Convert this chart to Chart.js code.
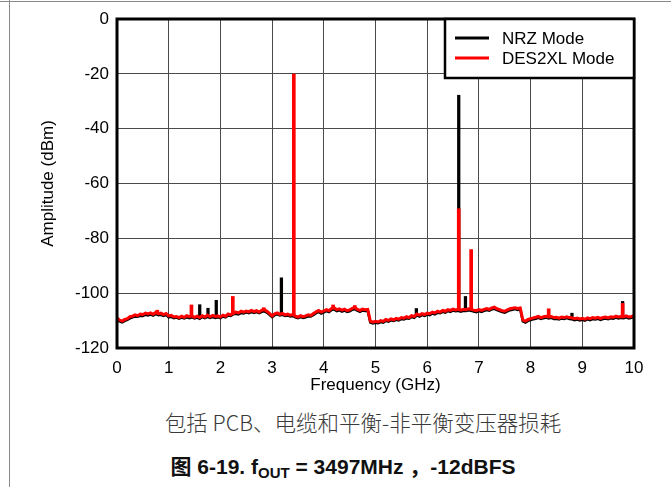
<!DOCTYPE html>
<html>
<head>
  <meta charset="utf-8">
  <title>图 6-19</title>
  <script src="https://cdn.jsdelivr.net/npm/chart.js@4"></script>
  <style>
    body { margin: 0; width: 671px; height: 487px; position: relative; background: #fff; overflow: hidden; }
    .frame-top { position: absolute; left: 0; top: 1px; width: 671px; height: 0; border-top: 1.5px solid #8a8a8a; }
    .frame-left { position: absolute; left: 9px; top: 0; width: 0; height: 487px; border-left: 1.5px solid #8a8a8a; }
    #wrap { position: absolute; left: 0; top: 0; }
    .note { position: absolute; left: 63px; width: 600px; top: 410px; line-height: 24px; text-align: center;
            font-family: "Noto Sans CJK SC", "Liberation Sans", sans-serif; font-size: 21.5px; color: #3a3a3a; font-weight: 300; }
    .caption { position: absolute; left: 43px; width: 600px; top: 455px; line-height: 24px; text-align: center;
               font-family: "Liberation Sans", "Noto Sans CJK SC", sans-serif; font-size: 21px; font-weight: bold; color: #111; }
    .caption sub { font-size: 15px; line-height: 0; vertical-align: -4px; }
  </style>
</head>
<body>
  <div class="frame-top"></div>
  <div class="frame-left"></div>
  <div id="wrap"><canvas id="grafico" width="671" height="405"></canvas></div>
  <div class="note">包括 PCB、电缆和平衡-非平衡变压器损耗</div>
  <div class="caption">图 6-19. f<sub>OUT</sub> = 3497MHz ，-12dBFS</div>

  <script>
    // frequency grid (GHz) for the noise floor
    var freqGHz = [
      0.00,0.05,0.10,0.15,0.20,0.25,0.30,0.35,0.40,0.45,0.50,0.55,0.60,0.65,0.70,0.75,0.80,0.85,0.90,0.95,
      1.00,1.05,1.10,1.15,1.20,1.25,1.30,1.35,1.40,1.45,1.50,1.55,1.60,1.65,1.70,1.75,1.80,1.85,1.90,1.95,
      2.00,2.05,2.10,2.15,2.20,2.25,2.30,2.35,2.40,2.45,2.50,2.55,2.60,2.65,2.70,2.75,2.80,2.85,2.90,2.95,
      3.00,3.05,3.10,3.15,3.20,3.25,3.30,3.35,3.40,3.45,3.50,3.55,3.60,3.65,3.70,3.75,3.80,3.85,3.90,3.95,
      4.00,4.05,4.10,4.15,4.20,4.25,4.30,4.35,4.40,4.45,4.50,4.55,4.60,4.65,4.70,4.75,4.80,4.85,4.90,4.95,
      5.00,5.05,5.10,5.15,5.20,5.25,5.30,5.35,5.40,5.45,5.50,5.55,5.60,5.65,5.70,5.75,5.80,5.85,5.90,5.95,
      6.00,6.05,6.10,6.15,6.20,6.25,6.30,6.35,6.40,6.45,6.50,6.55,6.60,6.65,6.70,6.75,6.80,6.85,6.90,6.95,
      7.00,7.05,7.10,7.15,7.20,7.25,7.30,7.35,7.40,7.45,7.50,7.55,7.60,7.65,7.70,7.75,7.80,7.85,7.90,7.95,
      8.00,8.05,8.10,8.15,8.20,8.25,8.30,8.35,8.40,8.45,8.50,8.55,8.60,8.65,8.70,8.75,8.80,8.85,8.90,8.95,
      9.00,9.05,9.10,9.15,9.20,9.25,9.30,9.35,9.40,9.45,9.50,9.55,9.60,9.65,9.70,9.75,9.80,9.85,9.90,9.95,
      10.00
    ];

    // NRZ Mode noise floor (dBm)
    var nrzFloor = [
      -109.5,-110.3,-110.6,-110.1,-109.7,-109.2,-108.8,-108.5,-108.6,-108.2,-108.3,-107.9,-108.1,-107.8,-108.2,-107.6,-108.0,-107.9,-108.3,-107.9,
      -108.8,-108.6,-109.1,-108.9,-109.3,-108.9,-109.2,-108.8,-109.1,-108.8,-109.2,-108.9,-109.3,-108.7,-109.1,-108.6,-109.0,-108.7,-109.0,-108.8,
      -109.1,-108.5,-108.8,-108.1,-108.3,-107.7,-107.5,-107.7,-107.2,-107.4,-107.0,-107.3,-106.9,-107.2,-106.9,-107.3,-106.8,-106.6,-107.1,-107.9,
      -108.7,-108.0,-107.7,-108.1,-107.9,-108.3,-108.1,-108.5,-108.3,-108.8,-109.1,-108.7,-109.0,-108.8,-108.4,-108.5,-107.9,-107.3,-106.8,-107.4,
      -107.0,-106.5,-106.9,-106.1,-105.9,-106.5,-106.2,-106.7,-106.3,-106.8,-106.6,-106.0,-105.8,-106.4,-106.8,-106.3,-106.5,-106.4,-110.7,-111.0,
      -110.8,-110.9,-110.5,-110.7,-110.1,-110.4,-109.9,-110.1,-109.7,-109.9,-109.4,-109.6,-109.1,-109.3,-108.7,-109.0,-108.1,-108.5,-108.0,-108.3,
      -107.8,-108.0,-107.4,-107.7,-107.1,-107.3,-106.8,-107.1,-106.5,-106.8,-106.3,-106.6,-106.4,-106.7,-106.4,-106.5,-106.2,-106.4,-106.7,-106.9,
      -106.5,-106.8,-106.4,-106.1,-106.4,-105.9,-105.7,-106.2,-106.5,-106.9,-107.1,-106.6,-106.2,-106.0,-105.8,-106.1,-105.9,-110.3,-110.7,-110.1,
      -109.8,-109.5,-109.3,-109.0,-109.4,-109.1,-108.9,-109.2,-109.0,-109.4,-109.3,-109.6,-109.2,-109.4,-109.1,-109.4,-109.5,-109.8,-109.6,-109.9,
      -109.7,-110.0,-109.5,-109.8,-109.4,-109.6,-109.3,-109.7,-109.4,-109.2,-109.5,-109.1,-109.3,-108.9,-109.2,-109.0,-109.1,-108.8,-109.2,-109.0,
      -108.7
    ];

    // DES2XL Mode noise floor (dBm)
    var des2xlFloor = [
      -109.0,-109.8,-110.2,-109.6,-109.3,-108.6,-108.4,-107.9,-108.2,-107.6,-107.8,-107.3,-107.6,-107.2,-107.7,-107.0,-107.5,-107.3,-107.8,-107.4,
      -108.3,-108.1,-108.7,-108.5,-108.9,-108.4,-108.8,-108.2,-108.6,-108.3,-108.8,-108.4,-108.9,-108.2,-108.7,-108.0,-108.6,-108.1,-108.5,-108.3,
      -108.7,-108.0,-108.4,-107.6,-107.9,-107.2,-106.9,-107.2,-106.6,-106.9,-106.5,-106.8,-106.3,-106.7,-106.4,-106.9,-106.2,-106.0,-106.6,-107.4,
      -108.3,-107.5,-107.2,-107.7,-107.4,-107.9,-107.6,-108.0,-107.8,-108.4,-108.7,-108.2,-108.6,-108.3,-107.9,-108.1,-107.4,-106.8,-106.3,-106.9,
      -106.5,-106.0,-106.4,-105.6,-105.3,-106.0,-105.7,-106.2,-105.8,-106.4,-106.1,-105.5,-105.2,-105.9,-106.3,-105.8,-106.0,-105.9,-110.2,-110.6,
      -110.3,-110.5,-110.0,-110.3,-109.6,-109.9,-109.4,-109.7,-109.2,-109.5,-108.9,-109.1,-108.6,-108.9,-108.2,-108.5,-107.6,-108.0,-107.5,-107.8,
      -107.3,-107.5,-106.9,-107.2,-106.6,-106.9,-106.3,-106.6,-106.0,-106.3,-105.8,-106.1,-105.9,-106.2,-105.9,-106.0,-105.7,-105.9,-106.2,-106.4,
      -106.0,-106.3,-105.9,-105.6,-105.9,-105.4,-105.1,-105.7,-106.0,-106.4,-106.6,-106.1,-105.7,-105.5,-105.3,-105.6,-105.4,-109.8,-110.2,-109.6,
      -109.3,-109.0,-108.8,-108.5,-108.9,-108.6,-108.4,-108.7,-108.5,-108.9,-108.8,-109.1,-108.7,-108.9,-108.6,-108.9,-109.0,-109.3,-109.1,-109.4,
      -109.2,-109.5,-109.0,-109.3,-108.9,-109.1,-108.8,-109.2,-108.9,-108.7,-109.0,-108.6,-108.8,-108.4,-108.7,-108.5,-108.6,-108.3,-108.7,-108.5,
      -108.2
    ];

    // spurs: frequency (GHz), peak and foot (dBm)
    var nrzSpurFreq = [1.60, 1.76, 1.92, 3.18, 5.79, 6.61, 6.74, 8.80, 9.78];
    var nrzSpurTop  = [-104.2, -105.5, -102.6, -94.4, -105.6, -27.8, -101.2, -107.3, -103.0];
    var nrzSpurBase = [-108.9, -108.8, -108.9, -108.0, -108.4, -106.4, -106.4, -109.4, -109.2];

    var des2xlSpurFreq = [0.78, 1.44, 2.24, 2.84, 3.42, 4.18, 4.60, 6.61, 6.85, 8.35, 9.78];
    var des2xlSpurTop  = [-106.2, -104.3, -101.2, -105.3, -20.1, -104.3, -104.5, -69.2, -84.1, -105.7, -103.7];
    var des2xlSpurBase = [-107.6, -108.6, -107.8, -106.3, -108.2, -105.6, -105.4, -106.0, -106.0, -108.6, -108.7];

    var xTicks = [0, 1, 2, 3, 4, 5, 6, 7, 8, 9, 10];
    var yTicks = [0, -20, -40, -60, -80, -100, -120];
    var seriesNames = ["NRZ Mode", "DES2XL Mode"];
    var seriesColors = ["#000000", "#ff0000"];

    var fontFamily = "'Liberation Sans', Arial, sans-serif";

    function toPoints(xs, ys) {
      var pts = [];
      for (var i = 0; i < xs.length; i++) pts.push({ x: xs[i], y: ys[i] });
      return pts;
    }
    function toBars(xs, base, top) {
      var pts = [];
      for (var i = 0; i < xs.length; i++) pts.push({ x: xs[i], y: [base[i], top[i]] });
      return pts;
    }

    // frame + legend box drawn over the plot
    var framePlugin = {
      id: "frame",
      afterDatasetsDraw: function (chart) {
        var a = chart.chartArea, ctx = chart.ctx;
        ctx.save();
        ctx.strokeStyle = "#000";
        ctx.lineWidth = 3;
        ctx.strokeRect(a.left, a.top, a.right - a.left, a.bottom - a.top);
        ctx.restore();
      },
      afterDraw: function (chart) {
        var a = chart.chartArea, ctx = chart.ctx;
        var w = 189, h = 59;
        var x0 = a.right - w, y0 = a.top;
        ctx.save();
        ctx.fillStyle = "#fff";
        ctx.fillRect(x0, y0, w, h);
        ctx.strokeStyle = "#000";
        ctx.lineWidth = 2.5;
        ctx.strokeRect(x0, y0, w, h);
        ctx.font = "17px " + fontFamily;
        ctx.textBaseline = "middle";
        for (var i = 0; i < seriesNames.length; i++) {
          var yy = y0 + 19 + i * 20;
          ctx.strokeStyle = seriesColors[i];
          ctx.lineWidth = 3;
          ctx.beginPath();
          ctx.moveTo(x0 + 10, yy);
          ctx.lineTo(x0 + 44, yy);
          ctx.stroke();
          ctx.fillStyle = "#000";
          ctx.fillText(seriesNames[i], x0 + 57, yy + 1);
        }
        ctx.restore();
      }
    };

    var ctx = document.getElementById("grafico").getContext("2d");
    new Chart(ctx, {
      type: "line",
      data: {
        datasets: [
          { label: seriesNames[1] + " spurs", type: "bar", data: toBars(des2xlSpurFreq, des2xlSpurBase, des2xlSpurTop),
            backgroundColor: seriesColors[1], barThickness: 3, grouped: false, order: 0 },
          { label: seriesNames[1], data: toPoints(freqGHz, des2xlFloor), borderColor: seriesColors[1],
            borderWidth: 3, pointRadius: 0, tension: 0, fill: false, order: 1 },
          { label: seriesNames[0] + " spurs", type: "bar", data: toBars(nrzSpurFreq, nrzSpurBase, nrzSpurTop),
            backgroundColor: seriesColors[0], barThickness: 2.6, grouped: false, order: 2 },
          { label: seriesNames[0], data: toPoints(freqGHz, nrzFloor), borderColor: seriesColors[0],
            borderWidth: 2.6, pointRadius: 0, tension: 0, fill: false, order: 3 }
        ]
      },
      options: {
        responsive: false,
        animation: false,
        layout: { padding: { left: 34, right: 37, top: 19, bottom: 5 } },
        plugins: { legend: { display: false }, tooltip: { enabled: false } },
        scales: {
          x: {
            type: "linear", min: 0, max: 10, offset: false,
            afterBuildTicks: function (s) { s.ticks = xTicks.map(function (v) { return { value: v }; }); },
            afterFit: function (s) { s.height = 52; },
            grid: { color: "#4a4a4a", lineWidth: 1, drawTicks: false, offset: false },
            border: { display: false },
            ticks: { color: "#000", padding: 10, maxRotation: 0, font: { family: fontFamily, size: 17 } },
            title: { display: true, text: "Frequency (GHz)", color: "#000", padding: { top: 0, bottom: 4 },
                     font: { family: fontFamily, size: 17 } }
          },
          y: {
            type: "linear", min: -120, max: 0,
            afterBuildTicks: function (s) { s.ticks = yTicks.map(function (v) { return { value: v }; }); },
            afterFit: function (s) { s.width = 83; },
            grid: { color: "#4a4a4a", lineWidth: 1, drawTicks: false },
            border: { display: false },
            ticks: { color: "#000", padding: 8, font: { family: fontFamily, size: 17 } },
            title: { display: true, text: "Amplitude (dBm)", color: "#000", padding: { top: 4, bottom: 4 },
                     font: { family: fontFamily, size: 17 } }
          }
        }
      },
      plugins: [framePlugin]
    });
  </script>
</body>
</html>
